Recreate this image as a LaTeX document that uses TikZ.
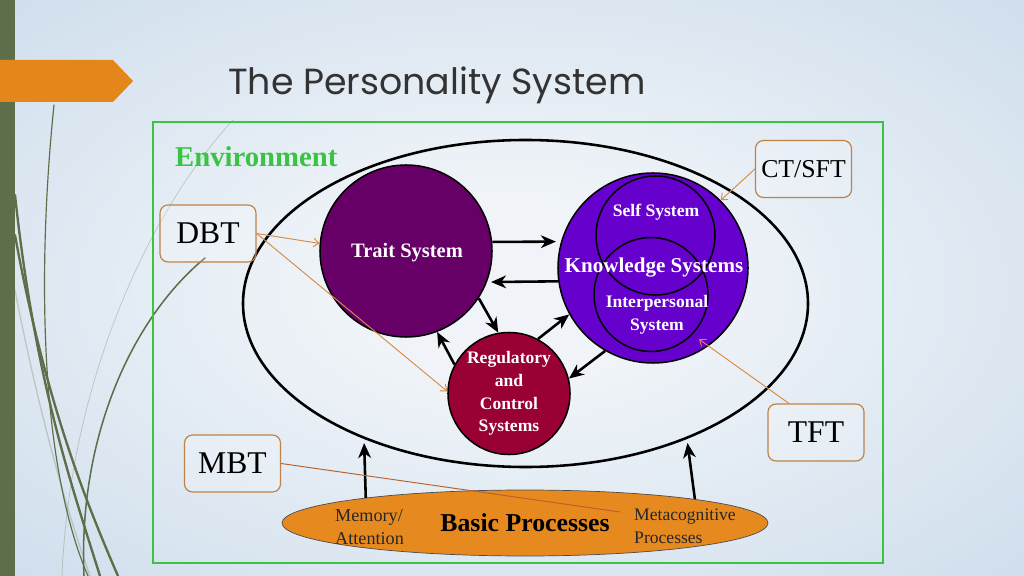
\documentclass[tikz,border=0pt]{standalone}
\usepackage{fontspec}
\setmainfont{Liberation Serif}
\newfontfamily\titlefont{Poppins}
\usetikzlibrary{arrows.meta,shapes.geometric}

\definecolor{bgin}{RGB}{240,244,248}
\definecolor{bgout}{RGB}{196,215,233}
\definecolor{barc}{RGB}{94,110,74}
\definecolor{tabc}{RGB}{228,134,26}
\definecolor{envgreen}{RGB}{58,196,68}
\definecolor{traitc}{RGB}{102,0,102}
\definecolor{knowc}{RGB}{102,0,204}
\definecolor{regc}{RGB}{153,0,51}
\definecolor{basicc}{RGB}{230,138,32}
\definecolor{linkc}{RGB}{214,140,70}
\definecolor{linkdark}{RGB}{185,95,40}
\definecolor{boxc}{RGB}{190,130,70}

\pgfdeclareradialshading{slidebg}{\pgfpoint{0bp}{0bp}}{color(0bp)=(bgin); color(8bp)=(bgin); color(45bp)=(bgout); color(80bp)=(bgout)}

\begin{document}
\begin{tikzpicture}[x=0.3mm, y=-0.3mm,
    sys/.style={circle, draw=black, line width=1.3pt, inner sep=0pt},
    subsys/.style={circle, draw=black, line width=1.3pt, inner sep=0pt},
    wtxt/.style={text=white, font=\bfseries\fontsize{17.5}{20}\selectfont, align=center},
    wsmall/.style={text=white, font=\bfseries\fontsize{15}{19.5}\selectfont, align=center},
    tbox/.style={draw=boxc, line width=1pt, rounded corners=2.4mm, fill=white, fill opacity=0.2, text opacity=1,
        minimum width=28.8mm, minimum height=17.1mm, inner sep=0pt, font=\fontsize{27}{30}\selectfont},
    proc/.style={align=left, anchor=west, inner sep=0pt, font=\fontsize{15.5}{19.5}\selectfont, text=black!85},
    arr/.style={line width=2.2pt, -{Stealth[length=4.5mm, width=3.8mm, inset=1.4mm]}},
    link/.style={draw=linkc, line width=0.8pt, -{Straight Barb[length=1.6mm, width=2.6mm]}},
    grass/.style={draw=barc, line cap=round},
]

% slide background
\useasboundingbox (0,0) rectangle (1024,576);
\shade[shading=slidebg] (0,0) rectangle (1024,576);

\draw[grass, line width=2pt] (15,195) .. controls (35,380) and (70,480) .. (100,576);
\draw[grass, line width=2pt] (15,235) .. controls (45,400) and (85,500) .. (118,576);
\draw[grass, line width=1pt] (54,105) .. controls (38,260) and (38,460) .. (88,576);
\draw[grass, line width=1.3pt] (84,576) .. controls (78,440) and (130,320) .. (205,258);
\draw[grass, line width=0.6pt, opacity=0.3] (233,120) .. controls (150,210) and (70,380) .. (62,576);
\draw[grass, line width=1.2pt, opacity=0.25] (15,290) .. controls (40,420) and (70,520) .. (90,576);

\fill[barc] (0,0) rectangle (15,576);
\fill[tabc] (0,60) -- (113,60) -- (133,81) -- (113,102) -- (0,102) -- cycle;

\node[anchor=base west, inner sep=0pt, text=black!80, font=\titlefont\fontsize{31}{36}\selectfont] (title) at (228,95) {The Personality System};

% environment
\draw[envgreen, line width=2.2pt] (153,122) rectangle (883,563);
\node[anchor=base west, inner sep=0pt, text=envgreen, font=\bfseries\fontsize{24.5}{28}\selectfont] (envlabel) at (175,167) {Environment};

\node[ellipse, draw=black, line width=2.2pt, inner sep=0pt, minimum width=169.5mm, minimum height=98.1mm] (env) at (525.5,303.5) {};

% systems
\node[sys, fill=traitc, minimum size=51.6mm] (trait) at (406,251) {};
\node[sys, fill=knowc, minimum size=57mm] (know) at (653,268) {};
\node[subsys, minimum size=35.7mm] (self) at (655.5,235.5) {};
\node[subsys, minimum size=34.2mm] (inter) at (651,294.5) {};
\node[sys, fill=regc, minimum size=36.6mm] (reg) at (509,393.5) {};

\node[wtxt] (traittxt) at (407,253) {Trait System};
\node[wtxt, font=\bfseries\fontsize{18}{20}\selectfont] (knowtxt) at (654,268) {Knowledge Systems};
\node[wsmall] (selftxt) at (656,212) {Self System};
\node[wsmall] (intertxt) at (657,315) {Interpersonal\\System};
\node[wsmall] (regtxt) at (reg) {Regulatory\\and\\Control\\Systems};

% basic processes
\node[ellipse, draw=black!70, line width=0.6pt, fill=basicc, inner sep=0pt, minimum width=145.8mm, minimum height=19.8mm,
    font=\bfseries\fontsize{22}{26}\selectfont] (basic) at (525,523) {Basic Processes};
\node[proc] (mem) at (335,527) {Memory/\\Attention};
\node[proc, font=\fontsize{15}{19.5}\selectfont] (meta) at (634,526) {Metacognitive\\Processes};
\coordinate (mbtend) at (620,512);

% therapies
\node[tbox] (dbt) at (208,233.5) {DBT};
\node[tbox, font=\fontsize{22}{26}\selectfont] (ctsft) at (803.5,169) {CT/SFT};
\node[tbox] (tft) at (816,432.5) {TFT};
\node[tbox] (mbt) at (232.5,463.5) {MBT};

\draw[arr, shorten >=1.5mm] (trait.6) -- (know.164);
\draw[arr, shorten >=1.2mm] (know.188.5) -- (trait.-21);
\draw[arr] (trait.-33) -- (reg.100);
\draw[arr] (reg.152) -- (trait.-69);
\draw[arr] (reg.62) -- (know.209);
\draw[arr] (know.240.5) -- (reg.14);
\draw[arr, shorten >=1.2mm] (basic.171.2) -- (env.220);
\draw[arr, shorten >=1.2mm] (basic.8.8) -- (env.-40);

\draw[link] (dbt.east) -- (trait.175);
\draw[link] (dbt.east) -- (reg.178);
\draw[link] (ctsft.west) -- (know.45);
\draw[link, shorten >=2.4mm] (tft.133) -- (inter.-44);
\draw[link, draw=linkdark, -] (mbt.east) -- (mbtend);

\end{tikzpicture}
\end{document}
